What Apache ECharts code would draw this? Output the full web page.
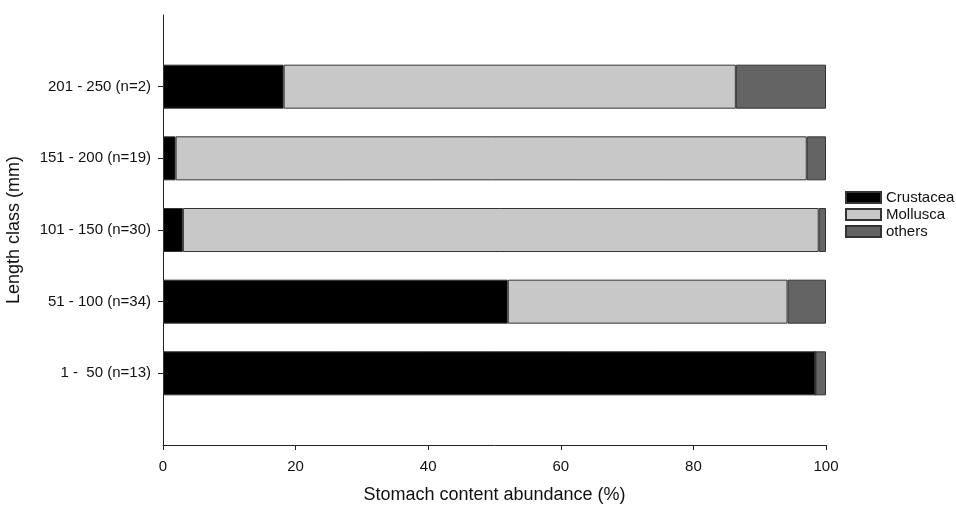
<!DOCTYPE html>
<html>
<head>
<meta charset="utf-8">
<script src="https://cdn.jsdelivr.net/npm/echarts@6/dist/echarts.min.js"></script>
<style>html,body{margin:0;padding:0;background:#fff;}#c{width:956px;height:507px;}</style>
</head>
<body>
<div id="c"></div>
<script>
const categories = ['', '1 -  50 (n=13)', '51 - 100 (n=34)', '101 - 150 (n=30)', '151 - 200 (n=19)', '201 - 250 (n=2)', ''];
const crustacea = [null, 98.4, 52.0, 3.0, 1.9, 18.2, null];
const mollusca  = [null, 0, 42.2, 95.9, 95.2, 68.2, null];
const others    = [null, 1.6, 5.8, 1.1, 2.9, 13.6, null];
const xTicks = [0, 20, 40, 60, 80, 100];

const chart = echarts.init(document.getElementById('c'));
const font = 'Liberation Sans, Arial, sans-serif';
function ser(name, data, color) {
  return {
    name: name, type: 'bar', stack: 'a', data: data, barWidth: 44,
    itemStyle: { color: color, borderColor: '#333', borderWidth: 1 },
    emphasis: { disabled: true }
  };
}
chart.setOption({
  animation: false,
  textStyle: { fontFamily: font },
  grid: { left: 163, right: 130, top: 15, bottom: 62, outerBoundsMode: 'none', containLabel: false },
  legend: {
    orient: 'vertical', left: 845, top: 190, padding: 0, itemWidth: 35, itemHeight: 11, itemGap: 2,
    icon: 'rect',
    textStyle: { fontFamily: font, fontSize: 15, color: '#111' },
    data: ['Crustacea', 'Mollusca', 'others']
  },
  xAxis: {
    type: 'value', min: xTicks[0], max: xTicks[xTicks.length - 1], interval: 20,
    name: 'Stomach content abundance (%)', nameLocation: 'middle', nameGap: 41,
    nameTextStyle: { fontFamily: font, fontSize: 18, color: '#111' },
    axisLine: { show: true, lineStyle: { color: '#222', width: 1 } },
    axisTick: { show: true, length: 5, lineStyle: { color: '#222' } },
    axisLabel: { fontFamily: font, fontSize: 15, color: '#111', margin: 14 },
    splitLine: { show: false }
  },
  yAxis: {
    type: 'category', data: categories, boundaryGap: false,
    name: 'Length class (mm)', nameLocation: 'middle', nameGap: 140,
    nameTextStyle: { fontFamily: font, fontSize: 18, color: '#111' },
    axisLine: { show: true, lineStyle: { color: '#222', width: 1 } },
    axisTick: { show: true, length: 5, lineStyle: { color: '#222' },
      interval: function (i, v) { return v !== ''; } },
    axisLabel: { fontFamily: font, fontSize: 15, color: '#111', margin: 12, interval: 0 },
    splitLine: { show: false }
  },
  series: [
    ser('Crustacea', crustacea, '#000000'),
    ser('Mollusca', mollusca, '#c8c8c8'),
    ser('others', others, '#646464')
  ]
});
</script>
</body>
</html>
